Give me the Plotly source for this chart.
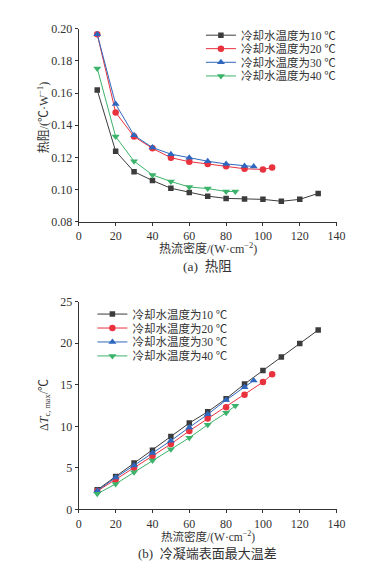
import plotly.graph_objects as go

W, H = 387, 563

# ---------- data ----------
labels = ["冷却水温度为10 ℃", "冷却水温度为20 ℃", "冷却水温度为30 ℃", "冷却水温度为40 ℃"]

x10 = [10, 20, 30, 40, 50, 60, 70, 80, 90, 100, 110, 120, 130]
x20 = [10, 20, 30, 40, 50, 60, 70, 80, 90, 100, 105]
x30 = [10, 20, 30, 40, 50, 60, 70, 80, 90, 95]
x40 = [10, 20, 30, 40, 50, 60, 70, 80, 85]

r10 = [0.1618, 0.1238, 0.1111, 0.1056, 0.1008, 0.0982, 0.0959, 0.0945, 0.0941, 0.0939, 0.0927, 0.0939, 0.0976]
r20 = [0.1965, 0.1479, 0.1329, 0.1256, 0.1198, 0.1173, 0.1159, 0.1145, 0.1129, 0.1125, 0.1137]
r30 = [0.1965, 0.1531, 0.1337, 0.1261, 0.1220, 0.1198, 0.1176, 0.1159, 0.1147, 0.1143]
r40 = [0.1753, 0.1329, 0.1176, 0.1091, 0.1050, 0.1016, 0.1006, 0.0988, 0.0988]

t10 = [2.35, 3.96, 5.57, 7.13, 8.78, 10.39, 11.75, 13.32, 15.09, 16.73, 18.33, 19.98, 21.59]
t20 = [2.2, 3.57, 5.02, 6.43, 7.87, 9.45, 10.93, 12.3, 13.8, 15.32, 16.26]
t30 = [2.25, 3.84, 5.29, 6.78, 8.27, 9.87, 11.44, 13.16, 14.69, 15.51]
t40 = [1.88, 3.06, 4.47, 5.88, 7.25, 8.62, 10.19, 11.63, 12.46]

x_ticks = [0, 20, 40, 60, 80, 100, 120, 140]
r_ticks = [0.08, 0.10, 0.12, 0.14, 0.16, 0.18, 0.20]
t_ticks = [0, 5, 10, 15, 20, 25]

# ---------- styles ----------
colors = ["#3c3c3c", "#e8323e", "#2f67bf", "#3bb36a"]
symbols = ["square", "circle", "triangle-up", "triangle-down"]
sizes = [5.5, 6.5, 7, 7]
SERIF = "Liberation Serif, Times New Roman, Noto Sans CJK SC, serif"
AX = "#333333"

fig = go.Figure()

top_sets = [(x10, r10), (x20, r20), (x30, r30), (x40, r40)]
bot_sets = [(x10, t10), (x20, t20), (x30, t30), (x40, t40)]

for i, (xs, ys) in enumerate(top_sets):
    fig.add_trace(go.Scatter(
        x=xs, y=ys, mode="lines+markers", name=labels[i],
        line=dict(color=colors[i], width=1),
        marker=dict(symbol=symbols[i], size=sizes[i], color=colors[i]),
        xaxis="x", yaxis="y", legend="legend" if i == 0 else f"legend{i+1}",
    ))
for i, (xs, ys) in enumerate(bot_sets):
    fig.add_trace(go.Scatter(
        x=xs, y=ys, mode="lines+markers", name=labels[i],
        line=dict(color=colors[i], width=1),
        marker=dict(symbol=symbols[i], size=sizes[i], color=colors[i]),
        xaxis="x2", yaxis="y2", legend=f"legend{i+5}",
    ))

xdom = [70 / W, 336 / W]
def ydom(top_px, bot_px):
    return [1 - bot_px / H, 1 - top_px / H]

axis_common = dict(
    showline=True, linecolor=AX, linewidth=1.2, ticks="outside", ticklen=3,
    tickcolor=AX, tickwidth=1.2, showgrid=False, zeroline=False,
    tickfont=dict(family=SERIF, size=12, color=AX),
)

layout = dict(
    width=W, height=H, margin=dict(l=0, r=0, t=0, b=0),
    paper_bgcolor="white", plot_bgcolor="white",
    xaxis=dict(domain=xdom, range=[0, 140], tickvals=x_ticks, anchor="y", **axis_common),
    yaxis=dict(domain=ydom(14, 212), range=[0.08, 0.20], tickvals=r_ticks,
               tickformat=".2f", anchor="x", **axis_common),
    xaxis2=dict(domain=xdom, range=[0, 140], tickvals=x_ticks, anchor="y2", **axis_common),
    yaxis2=dict(domain=ydom(294, 507), range=[0, 25], tickvals=t_ticks, anchor="x2", **axis_common),
    showlegend=True,
)

top_rows = [20.7, 34.5, 48.5, 62.5]
bot_rows = [306.7, 321.0, 335.3, 349.6]
for i in range(8):
    key = "legend" if i == 0 else f"legend{i+1}"
    if i < 4:
        lx, ly = 196, top_rows[i]
    else:
        lx, ly = 84, bot_rows[i - 4]
    layout[key] = dict(
        x=lx / W, y=1 - ly / H, xanchor="left", yanchor="middle",
        bgcolor="rgba(0,0,0,0)", borderwidth=0, itemwidth=30,
        font=dict(family=SERIF, size=11.5, color=AX),
    )

fig.update_layout(**layout)

def ann(text, px, py, size, angle=0):
    fig.add_annotation(
        text=text, x=px / W, y=1 - py / H, xref="paper", yref="paper",
        showarrow=False, textangle=angle, xanchor="center", yanchor="middle",
        font=dict(family=SERIF, size=size, color=AX),
    )

ann("热阻/(℃·W<sup>−1</sup>)", 33, 105, 12, -90)
ann("热流密度/(W·cm<sup>−2</sup>)", 203, 239, 12)
ann("(a)  热阻", 203, 258, 13.5)
ann("Δ<i>T</i><sub>c, max</sub>/℃", 35, 400, 12, -90)
ann("热流密度/(W·cm<sup>−2</sup>)", 203, 535, 11.5)
ann("(b)  冷凝端表面最大温差", 203, 552, 13)

fig.write_html("out.html")
